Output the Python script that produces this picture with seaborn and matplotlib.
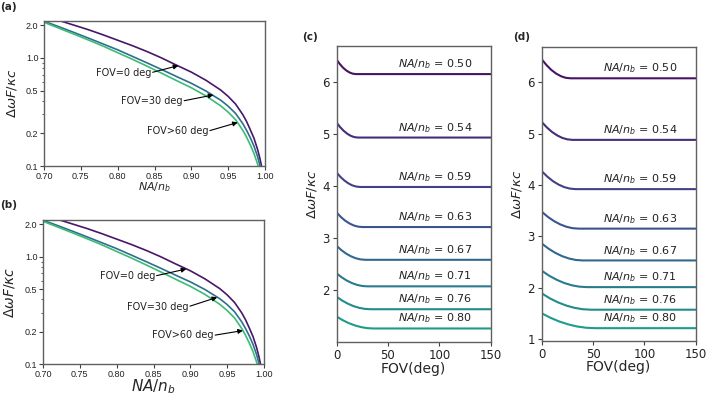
import numpy as np
import pandas as pd
import matplotlib
matplotlib.use("Agg")
import matplotlib.pyplot as plt
import matplotlib.ticker as mticker
from matplotlib import cm
import seaborn as sns

# ---------------- data: panels (a) and (b) ----------------
na_grid = [0.70, 0.72, 0.74, 0.76, 0.78, 0.80, 0.82, 0.84, 0.86, 0.88, 0.90, 0.92,
           0.94, 0.95, 0.96, 0.97, 0.975, 0.98, 0.985, 0.99, 0.993, 0.995, 0.997]
fov0 = [2.44, 2.23, 2.02, 1.83, 1.64, 1.46, 1.30, 1.146, 0.998, 0.857, 0.740, 0.621,
        0.504, 0.441, 0.375, 0.298, 0.258, 0.217, 0.181, 0.142, 0.118, 0.102, 0.085]
fov30 = [2.19, 1.95, 1.73, 1.53, 1.35, 1.19, 1.035, 0.90, 0.78, 0.673, 0.583, 0.494,
         0.406, 0.358, 0.307, 0.246, 0.214, 0.183, 0.153, 0.122, 0.102, 0.089, 0.078]
fov60 = [2.14, 1.89, 1.67, 1.47, 1.29, 1.12, 0.973, 0.839, 0.721, 0.617, 0.530, 0.445,
         0.360, 0.315, 0.269, 0.213, 0.185, 0.157, 0.131, 0.104, 0.0875, 0.076, 0.068]
fov_names = ["FOV=0 deg", "FOV=30 deg", "FOV>60 deg"]
na_ticks = [0.70, 0.75, 0.80, 0.85, 0.90, 0.95, 1.00]
log_ticks = [0.1, 0.2, 0.5, 1.0, 2.0]

# annotation (tip, tail) in data coords
ann_a = [((0.8824, 0.85), (0.8457, 0.732)),
         ((0.930, 0.455), (0.8884, 0.400)),
         ((0.963, 0.253), (0.9234, 0.211))]
ann_b = [((0.8946, 0.769), (0.8523, 0.662)),
         ((0.9364, 0.418), (0.8977, 0.343)),
         ((0.9714, 0.205), (0.9318, 0.185))]

# ---------------- data: panels (c) and (d) ----------------
na_labels = ["0.50", "0.54", "0.59", "0.63", "0.67", "0.71", "0.76", "0.80"]

c_fov = [
    [0, 3.2, 6.3, 9.5, 12.7, 15.8, 19, 150],
    [0, 3.5, 7, 10.5, 14, 17.5, 21, 150],
    [0, 3.8, 7.7, 11.5, 15.3, 19.2, 23, 150],
    [0, 4.2, 8.3, 12.5, 16.7, 20.8, 25, 150],
    [0, 4.7, 9.3, 14, 18.7, 23.3, 28, 150],
    [0, 5, 10, 15, 20, 25, 30, 150],
    [0, 5.5, 11, 16.5, 22, 27.5, 33, 150],
    [0, 6, 12, 18, 24, 30, 36, 150],
]
c_val = [
    [6.44, 6.354, 6.284, 6.23, 6.191, 6.168, 6.16, 6.16],
    [5.23, 5.141, 5.069, 5.013, 4.972, 4.948, 4.94, 4.94],
    [4.27, 4.184, 4.114, 4.06, 4.021, 3.998, 3.99, 3.99],
    [3.50, 3.414, 3.344, 3.29, 3.251, 3.228, 3.22, 3.22],
    [2.86, 2.777, 2.71, 2.658, 2.62, 2.598, 2.59, 2.59],
    [2.33, 2.254, 2.191, 2.143, 2.108, 2.087, 2.08, 2.08],
    [1.88, 1.807, 1.747, 1.70, 1.667, 1.647, 1.64, 1.64],
    [1.50, 1.43, 1.372, 1.328, 1.296, 1.276, 1.27, 1.27],
]
d_fov = [
    [0, 4.7, 9.3, 14, 18.7, 23.3, 28, 150],
    [0, 5, 10, 15, 20, 25, 30, 150],
    [0, 5.5, 11, 16.5, 22, 27.5, 33, 150],
    [0, 6, 12, 18, 24, 30, 36, 150],
    [0, 6.7, 13.3, 20, 26.7, 33.3, 40, 150],
    [0, 7.3, 14.7, 22, 29.3, 36.7, 44, 150],
    [0, 8, 16, 24, 32, 40, 48, 150],
    [0, 8.7, 17.3, 26, 34.7, 43.3, 52, 150],
]
d_val = [
    [6.45, 6.337, 6.244, 6.173, 6.121, 6.09, 6.08, 6.08],
    [5.23, 5.123, 5.035, 4.968, 4.919, 4.89, 4.88, 4.88],
    [4.27, 4.163, 4.075, 4.008, 3.959, 3.93, 3.92, 3.92],
    [3.48, 3.379, 3.297, 3.233, 3.187, 3.159, 3.15, 3.15],
    [2.86, 2.759, 2.677, 2.613, 2.567, 2.539, 2.53, 2.53],
    [2.33, 2.232, 2.152, 2.09, 2.046, 2.019, 2.01, 2.01],
    [1.89, 1.79, 1.712, 1.65, 1.606, 1.579, 1.57, 1.57],
    [1.50, 1.411, 1.339, 1.283, 1.242, 1.218, 1.21, 1.21],
]
fov_ticks = [0, 50, 100, 150]
c_yticks = [2, 3, 4, 5, 6]
d_yticks = [1, 2, 3, 4, 5, 6]

# ---------------- style ----------------
sns.set_theme(style="ticks")
plt.rcParams["font.family"] = ["DejaVu Sans"]
plt.rcParams["mathtext.fontset"] = "dejavusans"
plt.rcParams["axes.edgecolor"] = "#606060"
plt.rcParams["axes.linewidth"] = 1.0
plt.rcParams["xtick.color"] = "#404040"
plt.rcParams["ytick.color"] = "#404040"
plt.rcParams["xtick.labelcolor"] = "#222222"
plt.rcParams["ytick.labelcolor"] = "#222222"

ylab = r"$\Delta\omega F/\kappa c$"
xlab_na = r"$NA/n_b$"

fig = plt.figure(figsize=(7.06, 3.97), dpi=100)
W, H = 706.0, 397.0


def add_ax(l, t, r, b):
    return fig.add_axes([l / W, 1 - b / H, (r - l) / W, (b - t) / H])


ax_a = add_ax(44, 21, 265, 166)
ax_b = add_ax(43, 220, 264, 364)
ax_c = add_ax(336.5, 46, 490.7, 342)
ax_d = add_ax(541.7, 47, 695.7, 341)

cols_a = [cm.viridis(0.06), cm.viridis(0.36), cm.viridis(0.68)]

df_a = pd.DataFrame({
    "NA": na_grid * 3,
    "val": fov0 + fov30 + fov60,
    "FOV": [fov_names[0]] * len(na_grid) + [fov_names[1]] * len(na_grid)
           + [fov_names[2]] * len(na_grid),
})

for ax, anns, xl_fs, yl_fs, xl_y, yl_x in [
        (ax_a, ann_a, 8, 9.5, -0.095, -0.113),
        (ax_b, ann_b, 11, 10, -0.095, -0.118)]:
    sns.lineplot(data=df_a, x="NA", y="val", hue="FOV", palette=cols_a,
                 estimator=None, sort=False, lw=1.2, legend=False, ax=ax)
    ax.set_yscale("log")
    ax.set_xlim(0.70, 1.00)
    ax.set_ylim(0.1, 2.2)
    ax.yaxis.set_major_locator(mticker.FixedLocator(log_ticks))
    ax.yaxis.set_major_formatter(mticker.FixedFormatter([f"{v:.1f}" for v in log_ticks]))
    ax.yaxis.set_minor_locator(mticker.LogLocator(base=10, subs=np.arange(2, 10)))
    ax.yaxis.set_minor_formatter(mticker.NullFormatter())
    ax.set_xticks(na_ticks)
    ax.set_xticklabels([f"{v:.2f}" for v in na_ticks])
    ax.tick_params(axis="both", which="major", labelsize=6, length=3, width=0.8, pad=1)
    ax.tick_params(axis="y", which="minor", length=1.5, width=0.6)
    for t in ax.get_xticklabels() + ax.get_yticklabels():
        t.set_fontfamily(["Liberation Sans Narrow", "Liberation Sans", "DejaVu Sans"])
        t.set_fontsize(6.5)
    ax.set_xlabel(xlab_na, fontsize=xl_fs)
    ax.set_ylabel(ylab, fontsize=yl_fs)
    ax.xaxis.set_label_coords(0.5, xl_y)
    ax.yaxis.set_label_coords(yl_x, 0.5)
    for name, (tip, tail) in zip(fov_names, anns):
        ax.annotate(name, xy=tip, xytext=tail, ha="right", va="center",
                    fontsize=7, color="#222222",
                    arrowprops=dict(arrowstyle="-|>", color="black", lw=0.8,
                                    mutation_scale=7, relpos=(1.0, 0.5),
                                    patchA=None, shrinkA=1, shrinkB=0))

cols_cd = [cm.viridis(v) for v in np.linspace(0.05, 0.55, 8)]

for ax, fovs, vals, ylim, yt in [(ax_c, c_fov, c_val, (1.01, 6.70), c_yticks),
                                 (ax_d, d_fov, d_val, (0.96, 6.69), d_yticks)]:
    rows_x, rows_y, rows_h = [], [], []
    for lab, fx, fy in zip(na_labels, fovs, vals):
        rows_x += fx
        rows_y += fy
        rows_h += [lab] * len(fx)
    df = pd.DataFrame({"FOV": rows_x, "val": rows_y, "NA": rows_h})
    sns.lineplot(data=df, x="FOV", y="val", hue="NA", palette=cols_cd,
                 estimator=None, sort=False, lw=1.5, legend=False, ax=ax)
    for lab, fy in zip(na_labels, vals):
        ax.text(60, fy[-1] + 0.19, r"$NA/n_b$ = " + lab, fontsize=8,
                ha="left", va="center", color="#222222")
    ax.set_xlim(0, 150)
    ax.set_xticks(fov_ticks)
    ax.set_yticks(yt)
    ax.set_ylim(*ylim)
    ax.tick_params(axis="both", labelsize=8.5, length=3, width=0.8, pad=2)
    ax.set_xlabel("FOV(deg)", fontsize=10)
    ax.set_ylabel(ylab, fontsize=9.5)
    ax.xaxis.set_label_coords(0.5, -0.066)
    ax.yaxis.set_label_coords(-0.114, 0.5)

for s, (px, py) in zip(["(a)", "(b)", "(c)", "(d)"],
                       [(0, 7), (0, 205), (302, 37), (513, 37)]):
    fig.text(px / W, 1 - py / H, s, fontsize=7.5, fontweight="bold",
             ha="left", va="center")

fig.savefig("out.png", dpi=100)
